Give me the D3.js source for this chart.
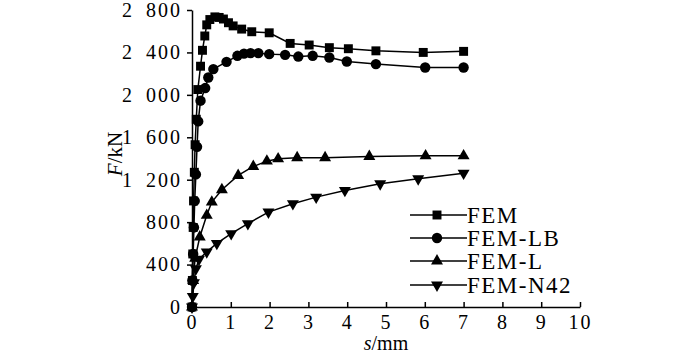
<!DOCTYPE html>
<html><head><meta charset="utf-8">
<script src="https://cdn.jsdelivr.net/npm/d3@7"></script>
<style>
html,body{margin:0;padding:0;background:#fff;}
svg text{font-family:"Liberation Serif","Times New Roman",Times,serif !important;fill:#000;}
</style></head>
<body><svg id="c" width="700" height="356"></svg>
<script>
// ---- data ----
const xTicks = [0,1,2,3,4,5,6,7,8,9,10];
const yTicks = [0,400,800,1200,1600,2000,2400,2800];
const seriesNames = ["FEM","FEM-LB","FEM-L","FEM-N42"];

const femS = [0,0.01,0.02,0.03,0.04,0.06,0.08,0.11,0.15,0.22,0.27,0.33,0.38,0.46,0.59,0.70,0.81,0.94,1.06,1.28,1.54,1.99,2.53,3.02,3.54,4.03,4.74,5.96,7.0];
const femF = [0,250,500,750,1000,1270,1530,1770,2050,2270,2420,2555,2660,2710,2735,2730,2715,2680,2650,2620,2595,2585,2485,2470,2445,2435,2415,2400,2410];

const lbS = [0,0.01,0.03,0.05,0.07,0.10,0.13,0.16,0.22,0.34,0.42,0.55,0.89,1.17,1.34,1.51,1.71,1.99,2.40,2.74,3.11,3.54,3.99,4.74,6.01,7.0];
const lbF = [0,250,500,750,1000,1250,1510,1750,1945,2064,2164,2243,2311,2368,2389,2393,2393,2384,2377,2361,2368,2352,2314,2290,2258,2258];

const lS = [0,0.03,0.08,0.20,0.38,0.51,0.77,1.19,1.58,1.93,2.22,2.71,3.43,4.57,6.02,7.0];
const lF = [0,250,460,660,864,989,1106,1240,1325,1375,1397,1407,1407,1419,1425,1425];

const nS = [0,0.02,0.05,0.10,0.18,0.38,0.64,1.01,1.44,1.97,2.60,3.20,3.94,4.85,5.83,7.0];
const nF = [0,100,230,360,450,520,599,692,786,895,974,1036,1099,1162,1209,1262];

// ---- layout ----
const FONT = "'Liberation Serif','Times New Roman',Times,serif";
const svg = d3.select("#c");
const x = d3.scaleLinear().domain([0,10]).range([192,580]);
const y = d3.scaleLinear().domain([0,2800]).range([307,10]);

const series = [
  {name:seriesNames[0], s:femS, f:femF, sym:d3.symbolSquare, size:80, rot:0},
  {name:seriesNames[1], s:lbS, f:lbF, sym:d3.symbolCircle, size:85, rot:0},
  {name:seriesNames[2], s:lS, f:lF, sym:d3.symbolTriangle, size:62, rot:0},
  {name:seriesNames[3], s:nS, f:nF, sym:d3.symbolTriangle, size:62, rot:180}
];

const line = d3.line().x(d=>x(d[0])).y(d=>y(d[1]));
series.forEach(se=>{
  const pts = se.s.map((v,i)=>[v, se.f[i]]);
  svg.append("path").attr("d", line(pts)).attr("fill","none").attr("stroke","#000").attr("stroke-width",1.5);
  svg.append("g").selectAll("path").data(pts).join("path")
    .attr("d", d3.symbol().type(se.sym).size(se.size))
    .attr("transform", d=>`translate(${x(d[0])},${y(d[1])}) rotate(${se.rot})`)
    .attr("fill","#000");
});

// axes
const xAxis = svg.append("g").attr("transform","translate(0,307)")
  .call(d3.axisBottom(x).tickValues(xTicks).tickSizeInner(-5).tickSizeOuter(0).tickPadding(8).tickFormat(d3.format("d")));
const yAxis = svg.append("g").attr("transform","translate(192,0)")
  .call(d3.axisLeft(y).tickValues(yTicks).tickSize(5).tickSizeOuter(0).tickPadding(5)
    .tickFormat(d => d>=1000 ? Math.floor(d/1000)+"\u2002"+String(d%1000).padStart(3,"0") : String(d)));
[xAxis,yAxis].forEach(a=>{
  a.attr("font-family", FONT).attr("font-size",20);
  a.selectAll("path,line").attr("stroke","#000").attr("stroke-width",1.5);
  a.selectAll("text").attr("font-family", FONT).attr("font-size",20).attr("letter-spacing","2px");
});

// axis titles
const xt = svg.append("text").attr("x",386).attr("y",350).attr("text-anchor","middle").attr("font-size",20).attr("font-family",FONT);
xt.append("tspan").attr("font-style","italic").text("s");
xt.append("tspan").text("/mm");
const yt = svg.append("text").attr("transform","translate(122,154) rotate(-90)").attr("text-anchor","middle").attr("font-size",21).attr("font-family",FONT);
yt.append("tspan").attr("font-style","italic").text("F");
yt.append("tspan").text("/kN");

// legend
const legY = [215,238,261,285];
series.forEach((se,i)=>{
  const g = svg.append("g");
  g.append("line").attr("x1",410).attr("x2",467).attr("y1",legY[i]).attr("y2",legY[i]).attr("stroke","#000").attr("stroke-width",1.5);
  g.append("path").attr("d", d3.symbol().type(se.sym).size(se.size)).attr("transform",`translate(437,${legY[i]}) rotate(${se.rot})`).attr("fill","#000");
  g.append("text").attr("x",467).attr("y",legY[i]).attr("dy","0.35em").attr("font-size",23).attr("font-family",FONT).attr("letter-spacing","1.5px").text(se.name);
});
</script></body></html>
